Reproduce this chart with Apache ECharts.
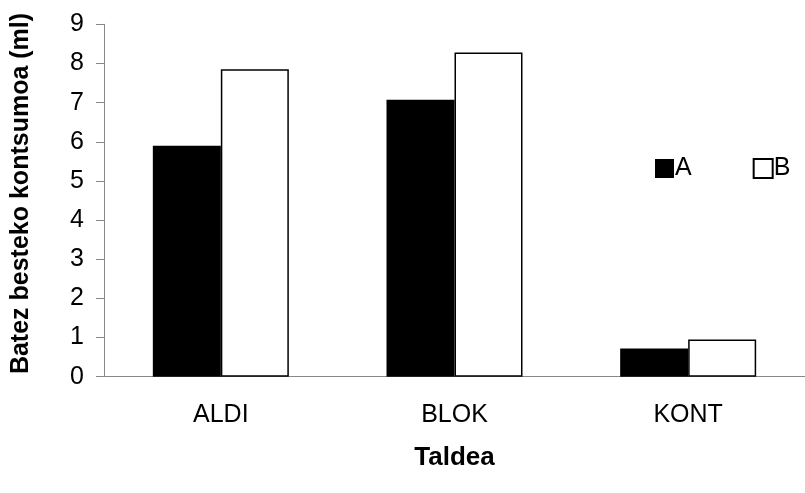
<!DOCTYPE html>
<html>
<head>
<meta charset="utf-8">
<script src="https://cdn.jsdelivr.net/npm/echarts@6/dist/echarts.min.js"></script>
<style>html,body{margin:0;padding:0;background:#fff}#c{width:805px;height:493px}</style>
</head>
<body>
<div id="c"></div>
<script>
const categories = ['ALDI', 'BLOK', 'KONT'];
const seriesA = [5.9, 7.07, 0.72];
const seriesB = [7.85, 8.28, 0.95];
const yTicks = { min: 0, max: 9, interval: 1 };

const chart = echarts.init(document.getElementById('c'), null, { renderer: 'canvas' });
const font = 'Liberation Sans, Arial, sans-serif';
chart.setOption({
  animation: false,
  backgroundColor: '#fff',
  textStyle: { fontFamily: font },
  legend: {
    left: 650, top: 151,
    itemWidth: 19, itemHeight: 19, itemGap: 61,
    icon: 'rect',
    textStyle: { fontSize: 25, color: '#000', fontFamily: font, padding: [0, 0, 0, -4] },
    data: ['A', 'B']
  },
  grid: { left: 104, top: 24.3, width: 705, bottom: 116.3, containLabel: false },
  xAxis: {
    type: 'category', data: categories,
    name: 'Taldea', nameLocation: 'middle', nameGap: 68,
    nameTextStyle: { fontSize: 26, fontWeight: 'bold', color: '#000', fontFamily: font },
    axisLine: { lineStyle: { color: '#888', width: 1 } },
    axisTick: { length: 9, lineStyle: { color: '#888' } },
    axisLabel: { fontSize: 25, color: '#000', margin: 26, fontFamily: font },
    splitLine: { show: false }
  },
  yAxis: {
    type: 'value', min: yTicks.min, max: yTicks.max, interval: yTicks.interval,
    name: 'Batez besteko kontsumoa (ml)', nameLocation: 'middle', nameGap: 70,
    nameTextStyle: { fontSize: 25, fontWeight: 'bold', color: '#000', fontFamily: font, padding: [0, 0, 0, 14] },
    axisLine: { show: true, lineStyle: { color: '#888', width: 1 } },
    axisTick: { show: true, length: 8, lineStyle: { color: '#888' } },
    axisLabel: { fontSize: 25, color: '#000', margin: 20, fontFamily: font },
    splitLine: { show: false }
  },
  series: [
    { name: 'A', type: 'bar', data: seriesA, barWidth: 68, barGap: '0%',
      itemStyle: { color: '#000' } },
    { name: 'B', type: 'bar', data: seriesB, barWidth: 68, barGap: '0%',
      itemStyle: { color: '#fff', borderColor: '#000', borderWidth: 1.5 } }
  ]
});
</script>
</body>
</html>
